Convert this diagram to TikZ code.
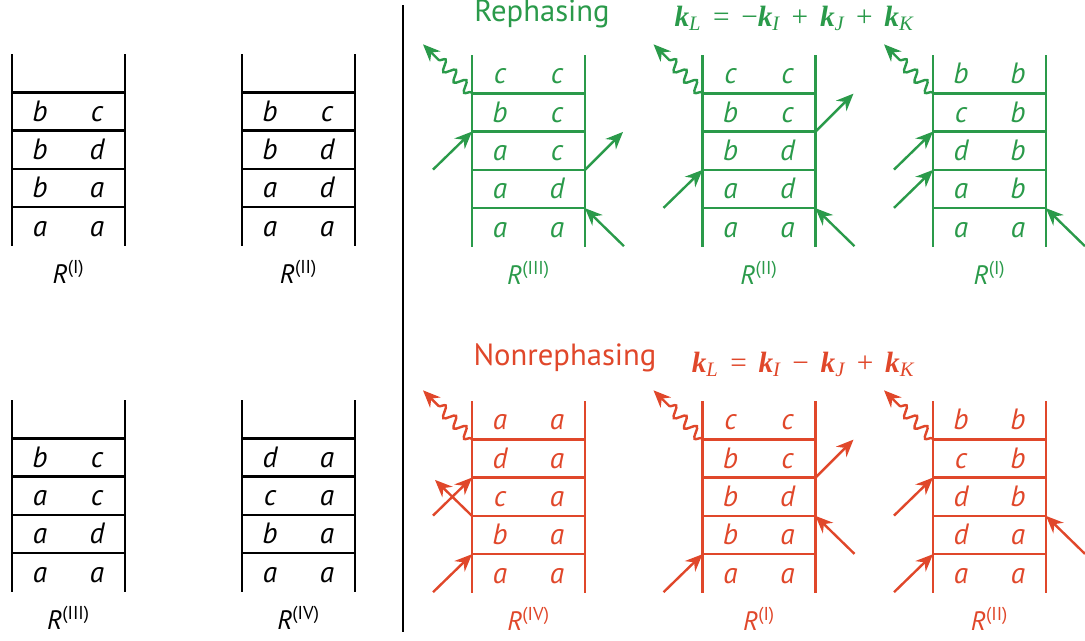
\documentclass[tikz,border=0pt]{standalone}
\usepackage{fontspec}
\setmainfont{PT Sans}
\newfontfamily\eqfont{Liberation Serif}
\usetikzlibrary{arrows.meta,decorations.pathmorphing}

\definecolor{rephase}{HTML}{2A9A4A}
\definecolor{nonrephase}{HTML}{E0472A}

% one double-sided ladder: name, top-left corner, label, rows from the top
\newcommand{\ladder}[4]{%
  \begin{scope}[shift={#2}]
    \draw[rail] (0,0) -- (0,191.5);
    \draw[rail] (113,0) -- (113,191.5);
    \foreach \i in {1,...,4} {
      \coordinate (#1-L\i) at (0,38.3*\i);
      \coordinate (#1-R\i) at (113,38.3*\i);
      \draw[rail] (#1-L\i) -- (#1-R\i);
    }
    \foreach \l/\r [count=\i] in {#4} {
      \node[letter] (#1-a\i) at (28,38.3*\i-9.5) {\l};
      \node[letter] (#1-b\i) at (85,38.3*\i-9.5) {\r};
    }
    \node[tag] (#1-tag) at (56.5,218) {\itshape R\upshape\textsuperscript{(#3)}};
  \end{scope}}

% field interactions on the rails
\newcommand{\inleft}[2]{\coordinate (#1-p#2) at ([shift={(-39,38)}]#1-L#2);
  \draw[beam] (#1-p#2) -- (#1-L#2);}
\newcommand{\inright}[2]{\coordinate (#1-q#2) at ([shift={(39,38)}]#1-R#2);
  \draw[beam] (#1-q#2) -- (#1-R#2);}
\newcommand{\outright}[2]{\coordinate (#1-q#2) at ([shift={(38,-38)}]#1-R#2);
  \draw[beam] (#1-R#2) -- (#1-q#2);}
\newcommand{\outleft}[2]{\coordinate (#1-p#2) at ([shift={(-37,-36)}]#1-L#2);
  \draw[beam] (#1-L#2) -- (#1-p#2);}
\newcommand{\emit}[1]{\coordinate (#1-out) at ([shift={(-49,-49)}]#1-L1);
  \draw[signal] (#1-L1) -- (#1-out);}

\newcommand{\kvec}[1]{{\bfseries\itshape k}\textsubscript{\itshape #1}}
\newcommand{\op}[1]{\hspace{0.4em}#1\hspace{0.4em}}

\begin{document}
\begin{tikzpicture}[x=0.75pt, y=-0.75pt,
  rail/.style={line width=1.8pt},
  letter/.style={font=\fontsize{22}{22}\selectfont\itshape, inner sep=0pt, anchor=base},
  tag/.style={font=\fontsize{20}{20}\selectfont, inner sep=0pt},
  head/.style={font=\fontsize{23}{23}\selectfont, inner sep=0pt},
  formula/.style={font=\eqfont\fontsize{22}{22}\selectfont, inner sep=0pt},
  beam/.style={line width=1.8pt, -{Stealth[length=13pt, width=11pt]}},
  signal/.style={beam, decorate, decoration={snake, amplitude=4pt, segment length=11pt, pre length=1pt, post length=13pt}}]

  \useasboundingbox (0,0) rectangle (1085,640);

  % Left panel: the four pathways
  \ladder{p1}{(12,54)}{I}{{}/{}, b/c, b/d, b/a, a/a}
  \ladder{p2}{(242,54)}{II}{{}/{}, b/c, b/d, a/d, a/a}
  \ladder{p3}{(12,400)}{III}{{}/{}, b/c, a/c, a/d, a/a}
  \ladder{p4}{(242,400)}{IV}{{}/{}, d/a, c/a, b/a, a/a}

  \draw[rail, line width=1.6pt] (403,5) -- (403,632);

  % Rephasing
  \begin{scope}[color=rephase]
    \node[head] (rtitle) at (542,14) {Rephasing};
    \node[formula] (rform) at (794,18) {\kvec{L}\op{=}−\kvec{I}\op{+}\kvec{J}\op{+}\kvec{K}};

    \ladder{g1}{(472,55)}{III}{c/c, b/c, a/c, a/d, a/a}
    \emit{g1} \inleft{g1}{2} \outright{g1}{3} \inright{g1}{4}

    \ladder{g2}{(702.5,55)}{II}{c/c, b/c, b/d, a/d, a/a}
    \emit{g2} \outright{g2}{2} \inleft{g2}{3} \inright{g2}{4}

    \ladder{g3}{(933,55)}{I}{b/b, c/b, d/b, a/b, a/a}
    \emit{g3} \inleft{g3}{2} \inleft{g3}{3} \inright{g3}{4}
  \end{scope}

  % Nonrephasing
  \begin{scope}[color=nonrephase]
    \node[head] (ntitle) at (565,358) {Nonrephasing};
    \node[formula] (nform) at (803,364) {\kvec{L}\op{=}\kvec{I}\op{−}\kvec{J}\op{+}\kvec{K}};

    \ladder{n1}{(472,401)}{IV}{a/a, d/a, c/a, b/a, a/a}
    \emit{n1} \inleft{n1}{2} \outleft{n1}{3} \inleft{n1}{4}

    \ladder{n2}{(702.5,401)}{I}{c/c, b/c, b/d, b/a, a/a}
    \emit{n2} \outright{n2}{2} \inright{n2}{3} \inleft{n2}{4}

    \ladder{n3}{(933,401)}{II}{b/b, c/b, d/b, d/a, a/a}
    \emit{n3} \inleft{n3}{2} \inright{n3}{3} \inleft{n3}{4}
  \end{scope}

\end{tikzpicture}
\end{document}
